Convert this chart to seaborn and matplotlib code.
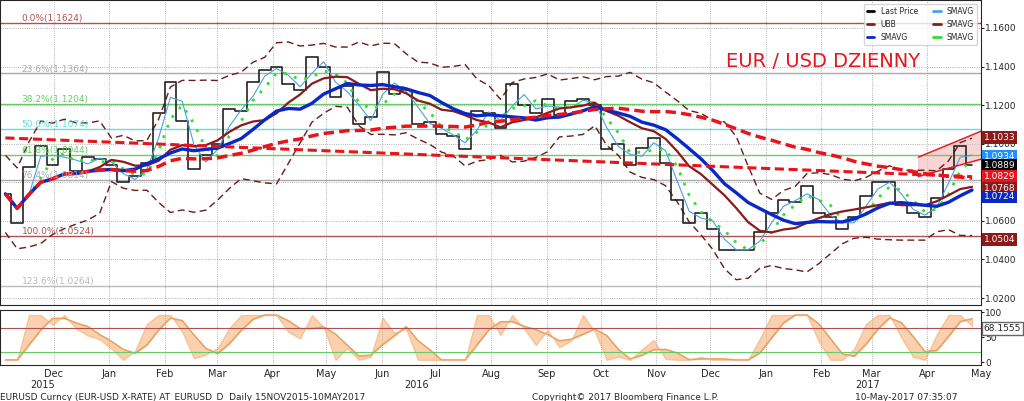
import numpy as np
import pandas as pd
import matplotlib
matplotlib.use("Agg")
import matplotlib.pyplot as plt
import seaborn as sns

# weekly closes EURUSD (15 Nov 2015 - 10 May 2017)
start, end = "2015-11-18", "2017-05-10"
closes = [1.074, 1.059, 1.088, 1.099, 1.089, 1.097, 1.086,
          1.093, 1.092, 1.089, 1.080, 1.083,
          1.090, 1.116, 1.132, 1.112, 1.087,
          1.094, 1.100, 1.118, 1.117, 1.132,
          1.138, 1.140, 1.131, 1.128, 1.145,
          1.140, 1.124, 1.130, 1.110, 1.114,
          1.137, 1.126, 1.128, 1.110, 1.111,
          1.105, 1.104, 1.097, 1.117,
          1.116, 1.108, 1.131, 1.120,
          1.116, 1.123, 1.115, 1.122, 1.123,
          1.120, 1.097, 1.100, 1.089, 1.098,
          1.103, 1.090, 1.071, 1.059,
          1.064, 1.056, 1.045, 1.045, 1.045,
          1.054, 1.064, 1.071, 1.070,
          1.078, 1.064, 1.062, 1.056,
          1.062, 1.073, 1.080, 1.080, 1.068,
          1.064, 1.062, 1.072, 1.087,
          1.099, 1.089]

fib_levels = [1.1624, 1.1364, 1.1204, 1.1074, 1.0944, 1.0814, 1.0524, 1.0264]
fib_names = ["0.0%", "23.6%", "38.2%", "50.0%", "61.8%", "76.4%", "100.0%", "123.6%"]
fib_colors = ["#b05050", "#aaaaaa", "#66cc66", "#66dddd", "#66cc66", "#aaaaaa", "#b05050", "#bbbbbb"]

right_labels = [1.1033, 1.0934, 1.0889, 1.0829, 1.0768, 1.0724, 1.0504]
right_colors = ["#8b1a1a", "#1e90ff", "#000000", "#e8141c", "#8b1a1a", "#0a28c8", "#8b1a1a"]

trend_ends = [1.1030, 1.0829]
yticks = [1.02, 1.04, 1.06, 1.08, 1.10, 1.12, 1.14, 1.16]

dates = pd.date_range(start, end, periods=len(closes))
df = pd.DataFrame({"date": dates, "close": closes})
df["fast"] = df["close"].rolling(2, min_periods=1).mean()
df["ma_green"] = df["close"].rolling(3, min_periods=1).mean()
df["ma_brown"] = df["close"].rolling(8, min_periods=1).mean()
df["ma_blue"] = df["close"].rolling(11, min_periods=1).mean()
df["ma_red"] = df["close"].rolling(40, min_periods=1).mean()
sd = df["close"].rolling(8, min_periods=1).std().fillna(0.01)
df["ubb"] = df["ma_brown"] + 1.6 * sd + 0.004
df["lbb"] = df["ma_brown"] - 1.6 * sd - 0.004
lo = df["close"].rolling(6, min_periods=1).min()
hi = df["close"].rolling(6, min_periods=1).max()
df["k"] = ((df["close"] - lo) / (hi - lo + 1e-9) * 100).clip(5, 95)
df["d"] = df["k"].rolling(3, min_periods=1).mean()

sns.set_style("white")
fig = plt.figure(figsize=(10.24, 4.01), dpi=100)
ax = fig.add_axes([0.0, 0.24, 0.958, 0.76])
ax2 = fig.add_axes([0.0, 0.09, 0.958, 0.137], sharex=ax)

x0, x1 = pd.Timestamp("2015-11-15"), pd.Timestamp("2017-05-15")
for lvl, nm, c in zip(fib_levels, fib_names, fib_colors):
    ax.axhline(lvl, color=c, lw=1)
    ax.text(pd.Timestamp("2015-11-27"), lvl + 0.001, f"{nm}({lvl:.4f})", color=c, fontsize=6.5)

sns.lineplot(data=df, x="date", y="ubb", ax=ax, color="#6b1a1a", lw=1, ls=(0, (5, 3)))
sns.lineplot(data=df, x="date", y="lbb", ax=ax, color="#6b1a1a", lw=1, ls=(0, (5, 3)))
sns.lineplot(data=df, x="date", y="close", ax=ax, color="#222222", lw=1.2, drawstyle="steps-mid")
sns.lineplot(data=df, x="date", y="fast", ax=ax, color="#4aa3df", lw=0.8)
sns.lineplot(data=df, x="date", y="ma_green", ax=ax, color="#33dd33", lw=2, ls=(0, (1, 3)))
sns.lineplot(data=df, x="date", y="ma_brown", ax=ax, color="#8b1a1a", lw=1.6)
sns.lineplot(data=df, x="date", y="ma_blue", ax=ax, color="#0a28c8", lw=2.4)
sns.lineplot(data=df, x="date", y="ma_red", ax=ax, color="#e8141c", lw=2.5, ls=(0, (3, 1.5)))
ax.plot([df["date"].iloc[0], df["date"].iloc[-1]], trend_ends, color="#e8141c", lw=2.2, ls=(0, (3, 1.5)))

# channel on the right
cx = [pd.Timestamp("2017-04-10"), pd.Timestamp("2017-05-15")]
ax.fill_between(cx, [1.0830, 1.0920], [1.0930, 1.1065], color="#f4b8b8", alpha=0.6)
ax.plot(cx, [1.0830, 1.0920], color="#e8141c", lw=1)
ax.plot(cx, [1.0930, 1.1065], color="#e8141c", lw=1)

ax.text(0.74, 0.78, "EUR / USD DZIENNY", transform=ax.transAxes, color="#e8141c", fontsize=14)

ax.set_xlim(x0, x1)
ax.set_ylim(1.0165, 1.1745)
ax.yaxis.tick_right()
ax.set_yticks(yticks)
ax.set_yticklabels([f"{v:.4f}" for v in yticks], fontsize=6.5)
ax.set_xlabel("")
ax.set_ylabel("")
ax.grid(axis="y", color="#999999", ls=":", lw=0.6)
ax.grid(axis="x", color="#999999", ls=":", lw=0.6)
ax.tick_params(labelbottom=False, length=2, pad=1)
for lvl, c in zip(right_labels, right_colors):
    ax.annotate(f"{lvl:.4f}", xy=(1.0, lvl), xycoords=("axes fraction", "data"), xytext=(2, 0),
                textcoords="offset points", va="center", fontsize=6.5, color="white",
                bbox=dict(boxstyle="square,pad=0.2", fc=c, ec="none"), annotation_clip=False)

ax.legend(handles=[plt.Line2D([], [], color=c, lw=2) for c in ["black", "#8b1a1a", "#0a28c8", "#4aa3df", "#8b1a1a", "#33dd33"]],
          labels=["Last Price", "UBB", "SMAVG", "SMAVG", "SMAVG", "SMAVG"],
          loc="upper right", ncol=2, fontsize=5.5, frameon=True, handlelength=1)

ax2.fill_between(df["date"], df["k"], df["d"], color="#f4a460", alpha=0.5)
sns.lineplot(data=df, x="date", y="d", ax=ax2, color="#e8a060", lw=1)
ax2.axhline(68, color="#b05050", lw=0.8)
ax2.axhline(20, color="#66cc66", lw=0.8)
ax2.set_ylim(-5, 105)
ax2.yaxis.tick_right()
ax2.set_yticks([0, 50, 100])
ax2.tick_params(labelsize=6.5, length=2, pad=1)
ax2.set_xlabel("")
ax2.set_ylabel("")
ax2.grid(axis="x", color="#999999", ls=":", lw=0.6)
ax2.annotate("68.1555", xy=(1.0, 68), xycoords=("axes fraction", "data"), xytext=(2, 0),
             textcoords="offset points", va="center", fontsize=6.5,
             bbox=dict(boxstyle="square,pad=0.2", fc="white", ec="#666666"), annotation_clip=False)
ax2.xaxis.set_major_locator(matplotlib.dates.MonthLocator(bymonthday=15))
ax2.xaxis.set_major_formatter(matplotlib.dates.DateFormatter("%b"))
ax2.tick_params(axis="x", labelsize=7, pad=1)
ax2.set_xticks([t for t in ax2.get_xticks() if t > matplotlib.dates.date2num(pd.Timestamp("2015-12-01"))])
ax2.set_xlim(x0, x1)
fig.text(0.03, 0.032, "2015", fontsize=7)
fig.text(0.395, 0.032, "2016", fontsize=7)
fig.text(0.835, 0.032, "2017", fontsize=7)
fig.text(0.0, 0.003, "EURUSD Curncy (EUR-USD X-RATE) AT_EURUSD_D  Daily 15NOV2015-10MAY2017", fontsize=6.5)
fig.text(0.52, 0.003, "Copyright\u00a9 2017 Bloomberg Finance L.P.", fontsize=6.5)
fig.text(0.835, 0.003, "10-May-2017 07:35:07", fontsize=6.5)

fig.savefig("out.png", dpi=100)
